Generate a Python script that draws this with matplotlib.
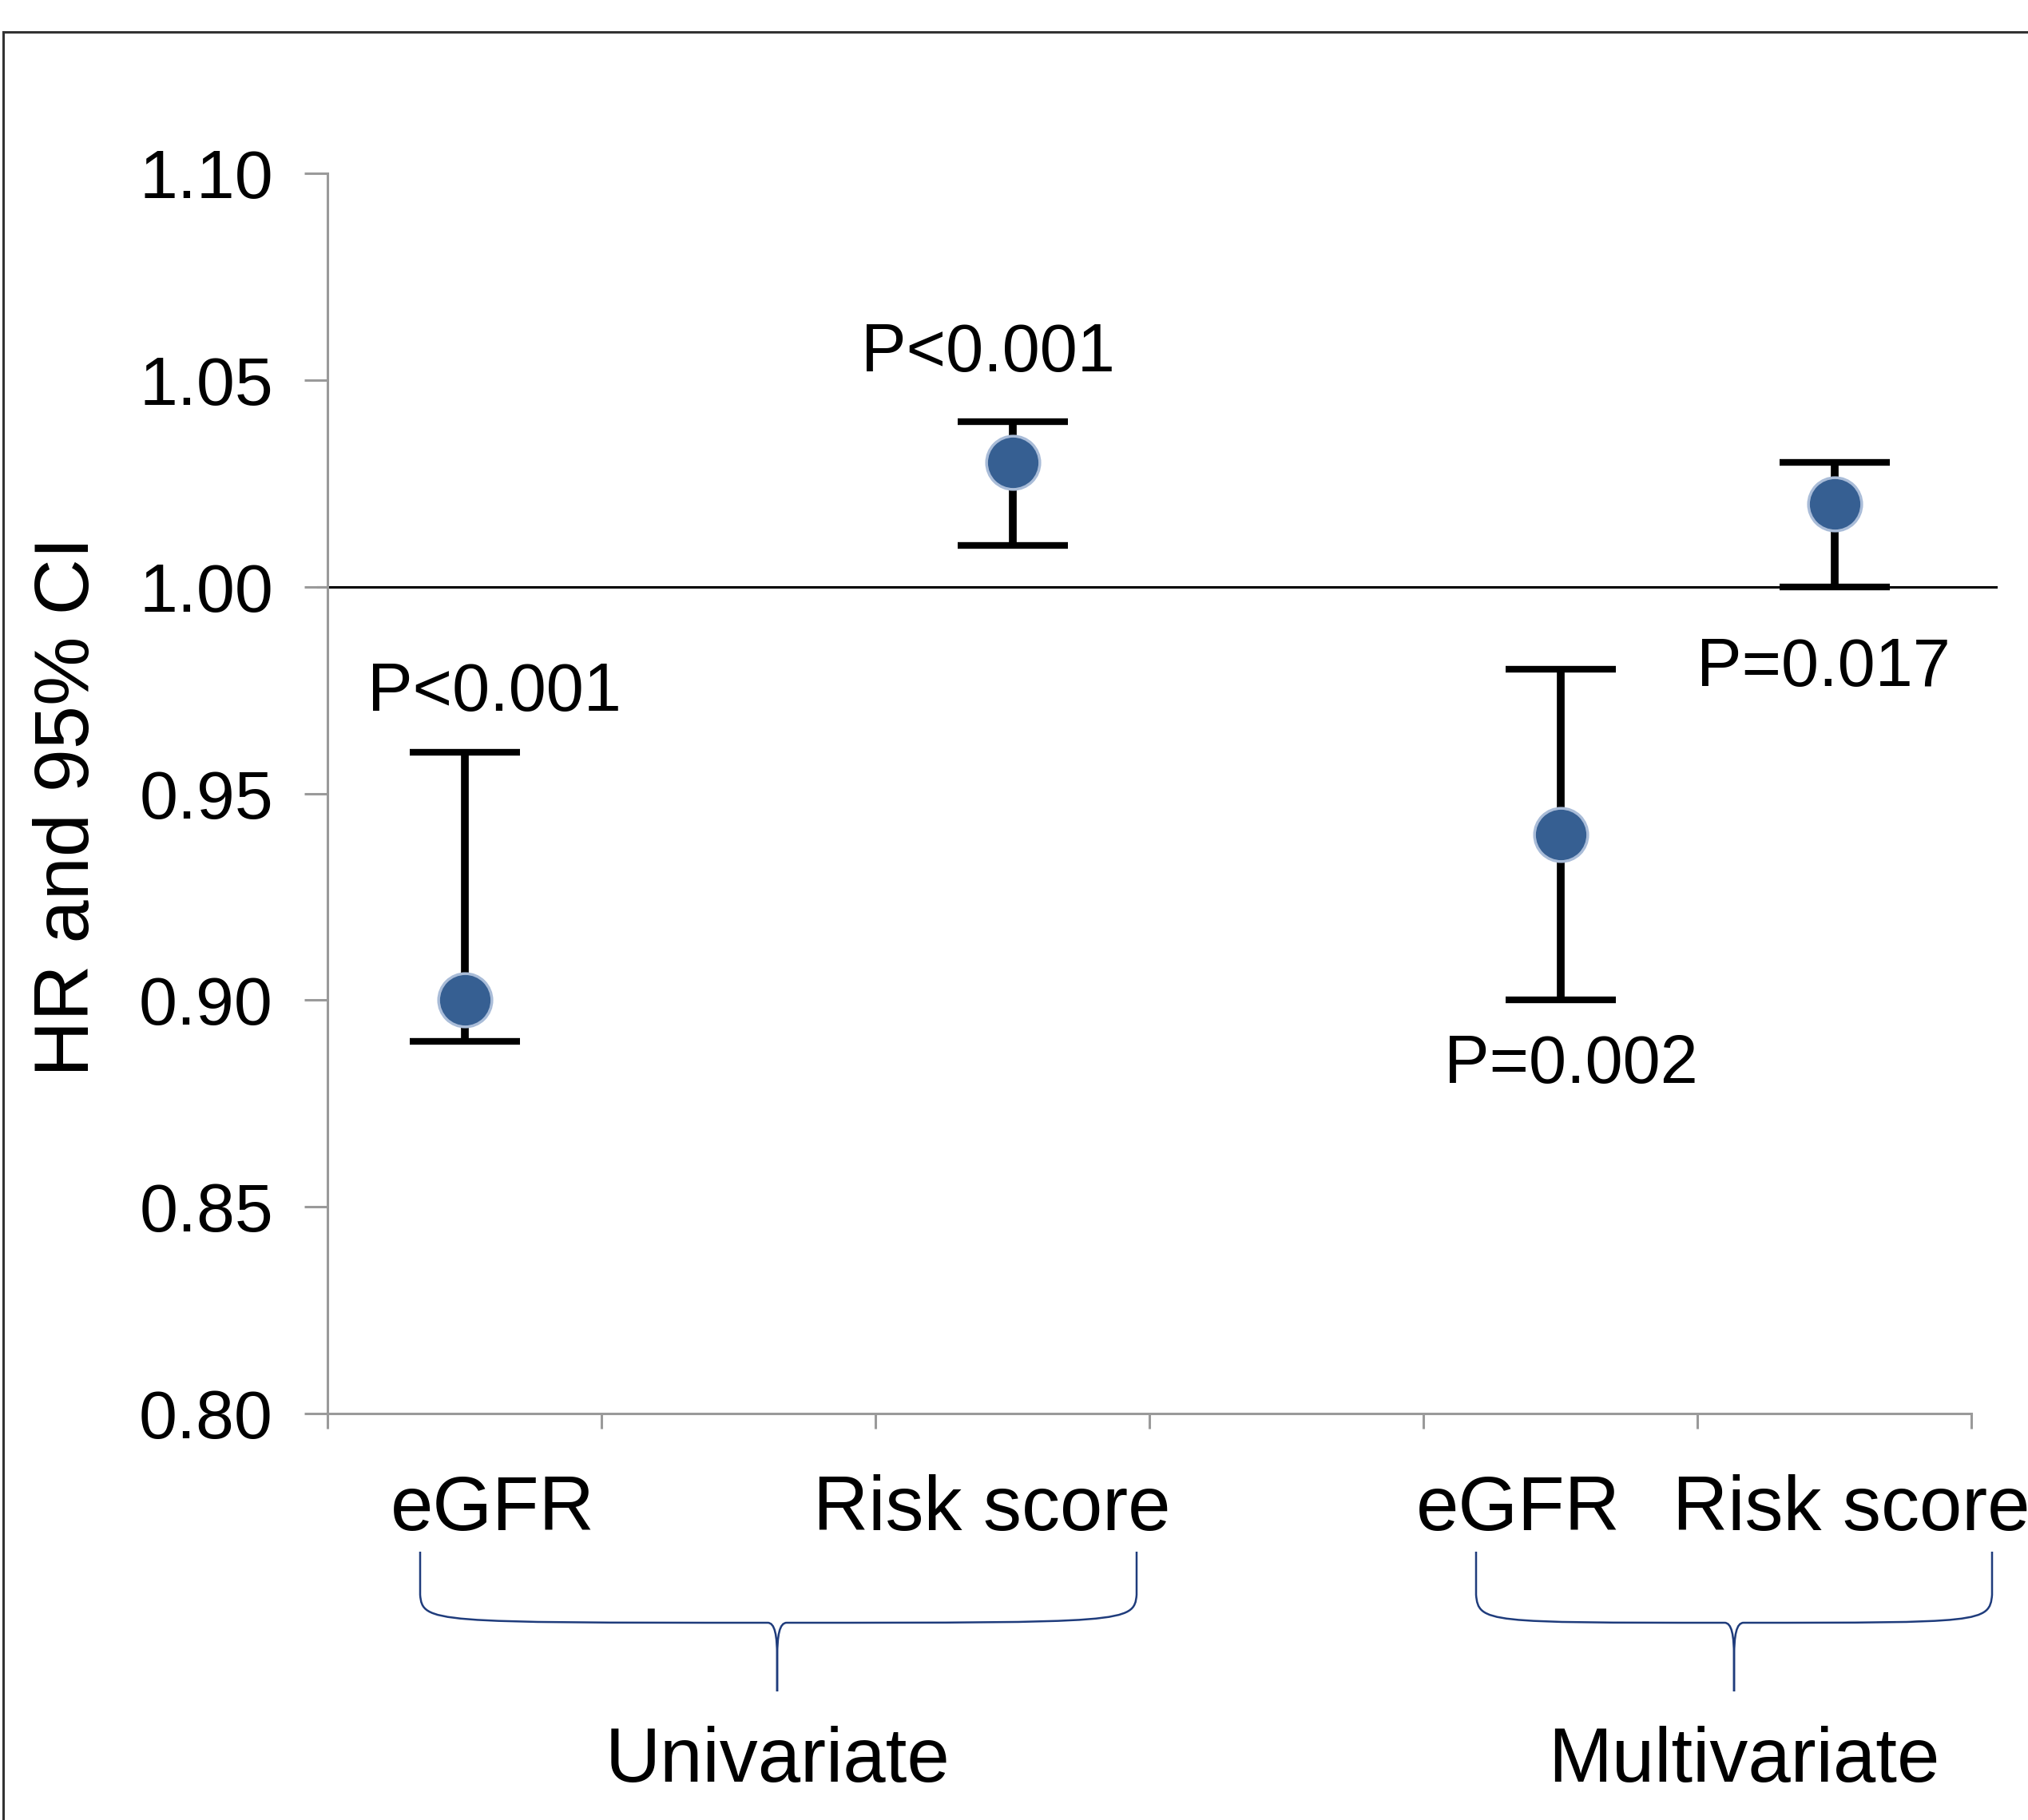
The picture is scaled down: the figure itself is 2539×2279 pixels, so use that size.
import matplotlib
matplotlib.use("Agg")
import matplotlib.pyplot as plt
from matplotlib.path import Path
from matplotlib.patches import PathPatch
from matplotlib.lines import Line2D

plt.rcParams["font.family"] = ["Liberation Sans", "DejaVu Sans"]

# data: hazard ratio and 95% CI
variables = ["eGFR", "Risk score", "eGFR", "Risk score"]
models = ["Univariate", "Multivariate"]
hr = [0.90, 1.03, 0.94, 1.02]
ci_low = [0.89, 1.01, 0.90, 1.00]
ci_high = [0.96, 1.04, 0.98, 1.03]
p_labels = ["P<0.001", "P<0.001", "P=0.002", "P=0.017"]
yticks = [0.80, 0.85, 0.90, 0.95, 1.00, 1.05, 1.10]

W, H = 2539, 2279
fig = plt.figure(figsize=(W / 100, H / 100), dpi=100)
ax = fig.add_axes([410 / W, 1 - 1770 / H, (2468 - 410) / W, (1770 - 217) / H])

# category slots: 6 slots, points sit in slots 0, 2, 4, 5
xpos = [0.5, 2.5, 4.5, 5.5]
err = [[h - lo for h, lo in zip(hr, ci_low)], [hi - h for h, hi in zip(hr, ci_high)]]

ax.axhline(1.0, xmin=-0.006, xmax=1.015, color="black", lw=2.2, clip_on=False, zorder=1)
ax.errorbar(xpos, hr, yerr=err, fmt="none", ecolor="black", elinewidth=7,
            capsize=50, capthick=6, zorder=2)
ax.plot(xpos, hr, "o", ms=48, color="#365f92", mec="#a9bcd8", mew=2.5,
        linestyle="none", zorder=3)

# P value annotations (x, baseline y in data units)
p_pos = [(0.61, 0.970), (2.41, 1.052), (4.54, 0.880), (5.46, 0.976)]
for lab, (px, py) in zip(p_labels, p_pos):
    ax.text(px, py, lab, ha="center", va="baseline", fontsize=61)

ax.set_xlim(0, 6)
ax.set_ylim(0.80, 1.10)
ax.set_xticks(range(7))
ax.set_xticklabels([])
ax.set_yticks(yticks)
ax.set_yticklabels([f"{t:.2f}" for t in yticks])
for s in ["top", "right"]:
    ax.spines[s].set_visible(False)
for s in ["left", "bottom"]:
    ax.spines[s].set_color("#9a9a9a")
    ax.spines[s].set_linewidth(2.2)
ax.tick_params(axis="y", length=21, width=2.2, color="#9a9a9a", labelsize=62, pad=28)
ax.tick_params(axis="x", length=14, width=2.2, color="#9a9a9a")


def fx(px):
    return px / W


def fy(py):
    return 1 - py / H


fig.text(fx(86), fy(1010), "HR and 95% CI", rotation=90, ha="center", va="center",
         fontsize=70)

# variable names under the axis
for name, cx in zip(variables, [617, 1242, 1901, 2318]):
    fig.text(fx(cx), fy(1916), name, ha="center", va="baseline", fontsize=69)

# model names
for name, cx in zip(models, [973, 2183]):
    fig.text(fx(cx), fy(2231), name, ha="center", va="baseline", fontsize=69)


def brace(x0, x1, xt, ytop=1943, ymid=2032, ybot=2118):
    for xa, sgn in [(x0, 1), (x1, -1)]:
        verts = [
            (xa, ytop),
            (xa, ymid - 35),
            (xa + sgn * 3, ymid),
            (xa + sgn * 14, ymid),
            (xt - sgn * 12, ymid),
            (xt - sgn * 3, ymid),
            (xt, ymid + 15),
            (xt, ymid + 45),
            (xt, ybot),
        ]
        codes = [Path.MOVETO, Path.LINETO, Path.CURVE4, Path.CURVE4, Path.LINETO,
                 Path.CURVE4, Path.CURVE4, Path.CURVE4, Path.LINETO]
        verts = [(fx(a), fy(b)) for a, b in verts]
        fig.patches.append(PathPatch(Path(verts, codes), fill=False, ec="#1f3c7c",
                                     lw=1.8, transform=fig.transFigure))


brace(526, 1423, 973)
brace(1848, 2494, 2171)

# outer frame (only left and top edges are in view)
fig.add_artist(Line2D([fx(4), fx(4)], [fy(40), 0], color="#333333", lw=2.2))
fig.add_artist(Line2D([fx(4), 1], [fy(40), fy(40)], color="#333333", lw=2.2))

fig.savefig("out.png", dpi=100)
